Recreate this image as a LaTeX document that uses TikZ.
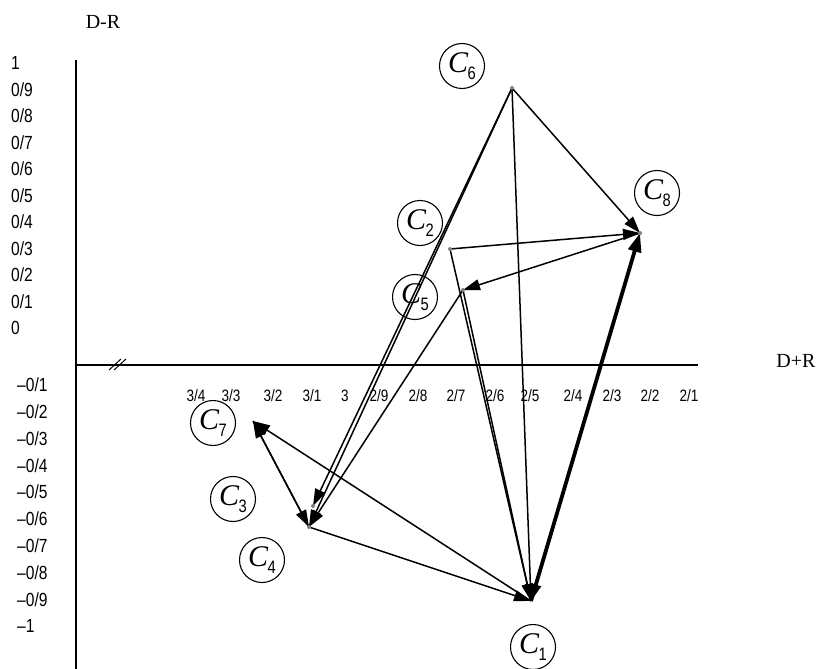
\documentclass[tikz,border=0pt]{standalone}
\usepackage{fontspec}
\setmainfont{Liberation Serif}
\newfontfamily\narrowsans[FakeStretch=0.82]{Liberation Sans}
\usetikzlibrary{arrows.meta}
\newcommand{\clab}[1]{{\fontsize{30}{30}\selectfont\itshape C}\kern-0.5pt\raisebox{-7pt}{\narrowsans\fontsize{18}{18}\selectfont #1}}
\begin{document}
\begin{tikzpicture}[x=1pt,y=-1pt,
  axis/.style={line width=1.7pt},
  conn/.style={line width=1.5pt, -{Triangle[length=17pt,width=11pt]}},
  heavy/.style={line width=3.8pt, -{Triangle[length=19pt,width=13pt]}},
  ylab/.style={anchor=west, font=\narrowsans\fontsize{19}{19}\selectfont, inner sep=0},
  xlab/.style={font=\narrowsans\fontsize{16.5}{16.5}\selectfont, inner sep=0},
  cnode/.style={draw, circle, line width=1.1pt, minimum size=45pt, inner sep=0},
  vdot/.style={fill=gray, circle, inner sep=0, minimum size=4pt},
  axlab/.style={font=\fontsize{20}{20}\selectfont, inner sep=0}]
\useasboundingbox (0,0) rectangle (817,669);
% axes
\coordinate (ytop) at (76,60);
\coordinate (ybot) at (76,669);
\coordinate (xl) at (76,365);
\coordinate (xr) at (698,365);
\draw[axis] (ytop) -- (ybot);
\draw[axis] (xl) -- (xr);
\coordinate (s1a) at (109,370); \coordinate (s1b) at (121,359);
\coordinate (s2a) at (114,370); \coordinate (s2b) at (126,359);
\draw[line width=1pt] (s1a) -- (s1b);
\draw[line width=1pt] (s2a) -- (s2b);
\node[axlab] (dr) at (103,22) {D-R};
\node[axlab] (dpr) at (796,361) {D+R};
% y labels
\node[ylab] (y10) at (11,63) {1};
\node[ylab] (y9) at (11,89.5) {0/9};
\node[ylab] (y8) at (11,116) {0/8};
\node[ylab] (y7) at (11,142.5) {0/7};
\node[ylab] (y6) at (11,169) {0/6};
\node[ylab] (y5) at (11,195.5) {0/5};
\node[ylab] (y4) at (11,222) {0/4};
\node[ylab] (y3) at (11,248.5) {0/3};
\node[ylab] (y2) at (11,275) {0/2};
\node[ylab] (y1) at (11,301.5) {0/1};
\node[ylab] (y0) at (11,328) {0};
\node[ylab] (ym1) at (17,385) {–0/1};
\node[ylab] (ym2) at (17,411.8) {–0/2};
\node[ylab] (ym3) at (17,438.6) {–0/3};
\node[ylab] (ym4) at (17,465.4) {–0/4};
\node[ylab] (ym5) at (17,492.2) {–0/5};
\node[ylab] (ym6) at (17,519) {–0/6};
\node[ylab] (ym7) at (17,545.8) {–0/7};
\node[ylab] (ym8) at (17,572.6) {–0/8};
\node[ylab] (ym9) at (17,599.4) {–0/9};
\node[ylab] (ym10) at (17,626) {–1};
% x labels
\node[xlab] (x34) at (196,396) {3/4};
\node[xlab] (x33) at (231,396) {3/3};
\node[xlab] (x32) at (273,396) {3/2};
\node[xlab] (x31) at (312,396) {3/1};
\node[xlab] (x3) at (345,396) {3};
\node[xlab] (x29) at (379,396) {2/9};
\node[xlab] (x28) at (418,396) {2/8};
\node[xlab] (x27) at (456,396) {2/7};
\node[xlab] (x26) at (495,396) {2/6};
\node[xlab] (x25) at (530,396) {2/5};
\node[xlab] (x24) at (573,396) {2/4};
\node[xlab] (x23) at (612,396) {2/3};
\node[xlab] (x22) at (650,396) {2/2};
\node[xlab] (x21) at (689,396) {2/1};
% points
\coordinate (p6) at (512,88);
\coordinate (p8) at (640,233);
\coordinate (p2) at (450,249);
\coordinate (p5) at (463,290);
\coordinate (p7) at (253,421);
\coordinate (p3) at (313,506);
\coordinate (p4) at (309,527);
\coordinate (p1) at (531,601);
% circled labels
\node[cnode] (c6) at (462,66) {\clab{6}};
\node[cnode] (c8) at (657,193) {\clab{8}};
\node[cnode] (c2) at (420,223) {\clab{2}};
\node[cnode] (c5) at (415,297) {\clab{5}};
\node[cnode] (c7) at (213,423) {\clab{7}};
\node[cnode] (c3) at (233,499) {\clab{3}};
\node[cnode] (c4) at (262,560) {\clab{4}};
\node[cnode] (c1) at (533,647) {\clab{1}};
% connectors
\draw[heavy] (p1) -- (p8);
\draw[conn] (p8) -- (p1);
\draw[conn] (p6) -- (p8);
\draw[conn] (p6) -- (p1);
\draw[conn] (p6) -- (p3);
\draw[conn] (p6) -- (p4);
\draw[conn] (p2) -- (p8);
\draw[conn] (p2) -- (p1);
\draw[conn] (p5) -- (p1);
\draw[conn] (p8) -- (p5);
\draw[conn] (p5) -- (p4);
\draw[conn] (p7) -- (p4);
\draw[conn] (p4) -- (p7);
\draw[conn] (p4) -- (p1);
\draw[conn] (p1) -- (p7);
% vertex dots
\foreach \p in {p6,p8,p2,p5,p3,p4}
  \node[vdot] at (\p) {};
\end{tikzpicture}
\end{document}
